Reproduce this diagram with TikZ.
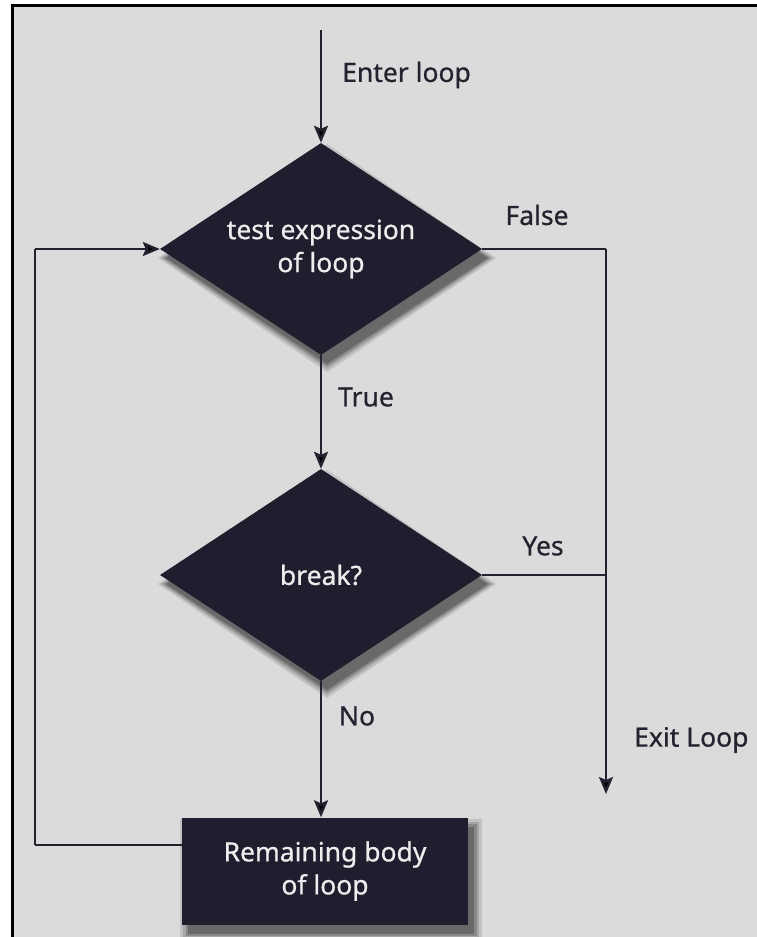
\documentclass[tikz,border=0pt]{standalone}
\usepackage{fontspec}
\setmainfont{Noto Sans}[UprightFeatures={FakeBold=0.7}]
\usetikzlibrary{arrows.meta,positioning,shapes.geometric}
\definecolor{ink}{HTML}{23232F}
\definecolor{navy}{HTML}{1E1E2E}
\definecolor{paper}{HTML}{DBDBDB}
\definecolor{pale}{HTML}{EDEDED}
\tikzset{
  decision/.style={diamond,aspect=1.52,fill=navy,text=pale,inner sep=0pt,
    minimum width=322pt,minimum height=212pt,align=center},
  block/.style={rectangle,fill=navy,text=pale,
    minimum width=286pt,minimum height=107pt,align=center},
  tag/.style={text=ink,inner sep=0pt}
}

\begin{document}
\begin{tikzpicture}[x=1pt,y=-1pt,font=\fontsize{26.5}{33}\selectfont]
\useasboundingbox (0,0) rectangle (757,937);
\fill[paper] (12,5) rectangle (757,937);
\draw[black,line width=3pt] (12,937) -- (12,5) -- (757,5);

\coordinate (ctest) at (321,249);
\coordinate (cbrk) at (321,575);
\coordinate (cbody) at (325,871);

% soft shadows
\foreach \g/\d in {88/16,76/10,62/5,48/0}{
  \node[decision,fill=paper!\g!black,minimum width=322pt+\d pt,minimum height=212pt+\d pt]
    (tsh\g) at ([shift={(6,9)}]ctest) {};
  \node[decision,fill=paper!\g!black,minimum width=322pt+\d pt,minimum height=212pt+\d pt]
    (bsh\g) at ([shift={(6,9)}]cbrk) {};
  \node[block,fill=paper!\g!black,minimum width=286pt+\d pt,minimum height=107pt+\d pt]
    (rsh\g) at ([shift={(6,9)}]cbody) {};
}

\node[decision] (test) at (ctest) {test expression\\of loop};
\node[decision] (brk) at (cbrk) {break?};
\node[block] (body) at (cbody) {Remaining body\\of loop};

\coordinate (in) at (321,30);
\coordinate (junc) at (606,249);
\coordinate (exit) at (606,794);
\coordinate (ret) at (35,845);

\node[tag,anchor=west] (enter) at (342,75) {Enter loop};
\node[tag] (false) at (537,215) {False};
\node[tag] (true) at (366,397) {True};
\node[tag] (yes) at (543,546) {Yes};
\node[tag] (no) at (357,716) {No};
\node[tag,anchor=west] (leave) at (634,740) {Exit Loop};

\path[draw=ink,line width=2.4pt,>={Stealth[length=17pt,width=14pt,inset=3pt]}]
(in) edge[->] (test.north)
(test.south) edge[->] (brk.north)
(brk.south) edge[->] (brk.south |- body.north)
(test.east) edge (junc)
(junc) edge[->] (exit)
(brk.east) edge (brk.east -| junc)
([yshift=26pt]body.west) edge (ret)
(ret) edge (ret |- test.west)
(ret |- test.west) edge[->] (test.west);
\end{tikzpicture}
\end{document}
